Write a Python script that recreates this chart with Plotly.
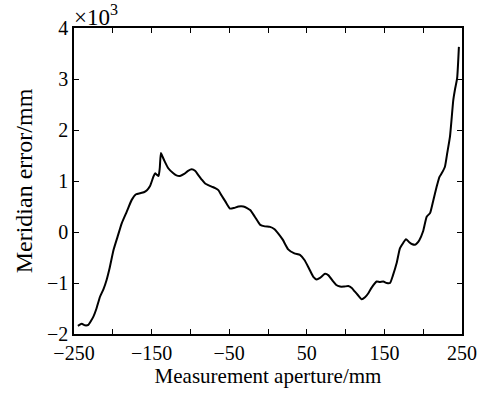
import plotly.graph_objects as go

aperture = [-245, -240, -236, -231.5, -228, -225, -221, -216.5, -212, -208, -204, -199, -194, -188.5, -182, -175.6,
            -170, -165, -160, -156, -152, -147.8, -145.6, -143, -141, -139.5, -138, -136, -133, -128.5, -122, -118,
            -113.4, -108, -103, -98.3, -94, -90, -85, -81, -77, -72.6, -68, -64, -60, -55, -49, -44, -38, -31.8,
            -27, -23, -17, -10, -4, 2.6, 8, 13.3, 19, 26, 34, 41.2, 47, 53, 58.4, 62.7, 67, 73.5, 78, 84, 88,
            92.8, 98, 103.5, 108, 112, 116, 120.7, 125, 129.3, 134, 140, 144, 148.6, 153, 157.2, 161, 165.8,
            170, 174, 177.8, 182, 186, 189.4, 192, 195, 200, 204.5, 208.8, 213, 217.4, 221, 223.8, 228, 231,
            234.5, 238.8, 241, 243.7, 246]
error = [-1.84, -1.80, -1.83, -1.82, -1.74, -1.66, -1.50, -1.27, -1.12, -0.94, -0.70, -0.35, -0.10, 0.17, 0.40, 0.63,
         0.74, 0.76, 0.78, 0.82, 0.90, 1.08, 1.15, 1.12, 1.10, 1.25, 1.55, 1.48, 1.38, 1.25, 1.15, 1.11,
         1.10, 1.14, 1.20, 1.23, 1.20, 1.12, 1.02, 0.95, 0.92, 0.89, 0.86, 0.82, 0.72, 0.60, 0.46, 0.47, 0.50, 0.50,
         0.47, 0.43, 0.30, 0.14, 0.11, 0.10, 0.06, -0.03, -0.15, -0.34, -0.42, -0.45, -0.55, -0.72, -0.88, -0.93, -0.90, -0.82, -0.85, -0.97, -1.04,
         -1.07, -1.07, -1.06, -1.10, -1.17, -1.24, -1.32, -1.28, -1.20, -1.08, -0.97, -0.98, -0.97, -1.00, -1.00, -0.85, -0.61,
         -0.32, -0.22, -0.14, -0.20, -0.24, -0.25, -0.22, -0.16, 0.02, 0.30, 0.37, 0.62, 0.89, 1.08, 1.15, 1.28, 1.55,
         1.87, 2.59, 2.80, 3.01, 3.63]

x_ticks = [-250, -200, -150, -100, -50, 0, 50, 100, 150, 200, 250]
x_labels = ["\u2212250", "", "\u2212150", "", "\u221250", "", "50", "", "150", "", "250"]
y_ticks = [-2, -1, 0, 1, 2, 3, 4]
y_labels = ["\u22122", "\u22121", "0", "1", "2", "3", "4"]

fig = go.Figure()
fig.add_trace(go.Scatter(x=aperture, y=error, mode="lines",
                         line=dict(color="black", width=2, shape="spline", smoothing=0.5), showlegend=False))

fam = "Liberation Serif, Times New Roman, serif"
font = dict(family=fam, size=20, color="black")
axis_common = dict(showline=True, linecolor="black", linewidth=1.5, mirror="ticks",
                   ticks="inside", ticklen=5, tickcolor="black", tickwidth=1,
                   showgrid=False, zeroline=False, tickfont=font, automargin=False)
fig.update_xaxes(range=[-250, 250], tickvals=x_ticks, ticktext=x_labels, ticklabelstandoff=0,
                 title=dict(text="Measurement aperture/mm", font=dict(family=fam, size=21, color="black"), standoff=4),
                 **axis_common)
fig.update_yaxes(range=[-2, 4], tickvals=y_ticks, ticktext=y_labels,
                 title=dict(text="Meridian error/mm", font=dict(family=fam, size=24, color="black"), standoff=8),
                 **axis_common)
fig.add_annotation(text="\u00d710<sup>3</sup>", xref="paper", yref="paper", x=0, y=1,
                   xanchor="left", yanchor="bottom", showarrow=False, yshift=-4, xshift=-2,
                   font=dict(family=fam, size=23, color="black"))
fig.update_layout(width=479, height=394, margin=dict(l=74, r=17, t=28, b=60),
                  plot_bgcolor="white", paper_bgcolor="white")
fig.write_html("out.html", config={"displayModeBar": False},
               post_script="document.body.style.margin='0';")
